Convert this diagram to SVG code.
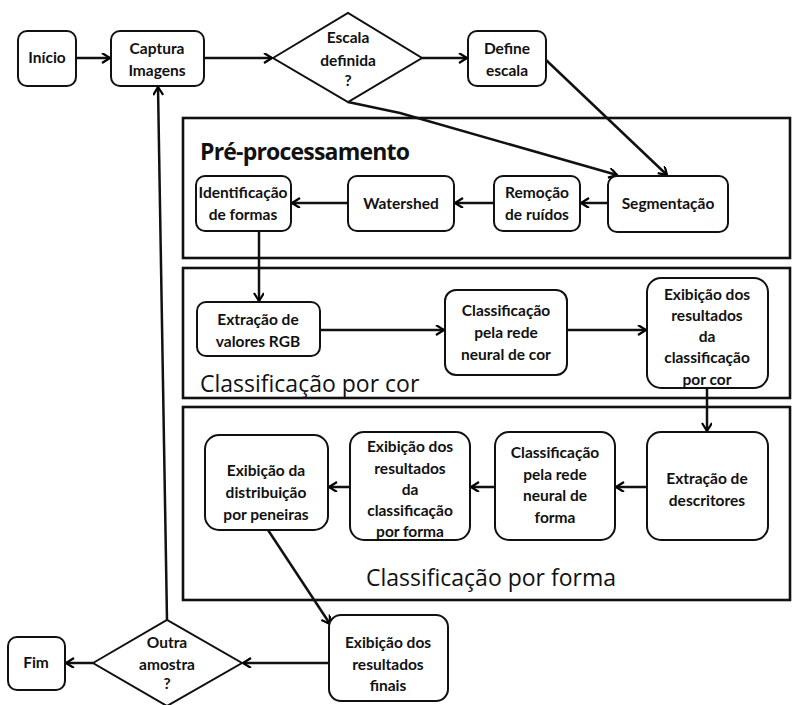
<svg xmlns="http://www.w3.org/2000/svg" width="794" height="705" viewBox="0 0 794 705">
<defs>
<marker id="arr" markerWidth="12" markerHeight="12" refX="9" refY="5" orient="auto" markerUnits="userSpaceOnUse">
<path d="M1,0 L9,5 L1,10" fill="none" stroke="#000" stroke-width="2.2"/>
</marker>
</defs>
<style>
.n{fill:#fff;stroke:#111;stroke-width:2}
.c{fill:none;stroke:#111;stroke-width:2.6}
.t{font-family:Lato,"Open Sans",sans-serif;font-weight:bold;font-size:15.5px;fill:#111;text-anchor:middle}
.h{font-family:"Open Sans","Noto Sans",sans-serif;font-size:23px;fill:#111}
.e{fill:none;stroke:#111;stroke-width:2.5;marker-end:url(#arr)}
</style>
<rect width="794" height="705" fill="#fff"/>
<g id="containers">
<rect class="c" x="183" y="118" width="607" height="140"/>
<text class="h" x="200" y="160" font-weight="bold" textLength="210">Pré-processamento</text>
<rect class="c" x="183" y="268" width="607" height="130"/>
<text class="h" x="200" y="392" font-weight="500">Classificação por cor</text>
<rect class="c" x="183" y="407" width="607" height="193"/>
<text class="h" x="491" y="586" text-anchor="middle" font-weight="500" font-size="24">Classificação por forma</text>
</g>
<g id="connectors">
<line class="e" x1="76" y1="58" x2="110" y2="58"/>
<line class="e" x1="204" y1="58" x2="272" y2="58"/>
<line class="e" x1="422" y1="58" x2="467" y2="58"/>
<line class="e" x1="546" y1="60" x2="667" y2="175"/>
<polyline class="e" points="348,102 400,113 617,175"/>
<line class="e" x1="608" y1="203" x2="581" y2="203"/>
<line class="e" x1="494" y1="203" x2="455" y2="203"/>
<line class="e" x1="348" y1="203" x2="292" y2="203"/>
<line class="e" x1="259" y1="231" x2="259" y2="301"/>
<line class="e" x1="320" y1="330" x2="444" y2="330"/>
<line class="e" x1="567" y1="330" x2="646" y2="330"/>
<line class="e" x1="707" y1="388" x2="707" y2="431"/>
<line class="e" x1="647" y1="487" x2="616" y2="487"/>
<line class="e" x1="495" y1="487" x2="471" y2="487"/>
<line class="e" x1="350" y1="487" x2="329" y2="487"/>
<line class="e" x1="268" y1="530" x2="330" y2="624"/>
<line class="e" x1="330" y1="663" x2="243" y2="663"/>
<line class="e" x1="93" y1="663" x2="66" y2="663"/>
<line class="e" x1="167" y1="620" x2="158" y2="87"/>
</g>
<g id="inicio"><rect class="n" x="18" y="31" width="58" height="55" rx="9"/><text class="t" x="47" y="63">Início</text></g>
<g id="captura"><rect class="n" x="111" y="31" width="93" height="55" rx="9"/><text class="t" x="157" y="54">Captura</text><text class="t" x="157" y="76">Imagens</text></g>
<g id="escala"><polygon class="n" points="273,58 348,13 422,58 348,102"/><text class="t" x="348" y="43">Escala</text><text class="t" x="348" y="66">definida</text><text class="t" x="348" y="86">?</text></g>
<g id="define"><rect class="n" x="468" y="31" width="78" height="55" rx="9"/><text class="t" x="507" y="54">Define</text><text class="t" x="507" y="76">escala</text></g>
<g id="identificacao"><rect class="n" x="196" y="176" width="95" height="55" rx="9"/><text class="t" x="243" y="198">Identificação</text><text class="t" x="243" y="220">de formas</text></g>
<g id="watershed"><rect class="n" x="348" y="176" width="106" height="55" rx="9"/><text class="t" x="401" y="209">Watershed</text></g>
<g id="remocao"><rect class="n" x="494" y="176" width="86" height="55" rx="9"/><text class="t" x="537" y="198">Remoção</text><text class="t" x="537" y="220">de ruídos</text></g>
<g id="segmentacao"><rect class="n" x="608" y="176" width="120" height="56" rx="9"/><text class="t" x="668" y="209">Segmentação</text></g>
<g id="rgb"><rect class="n" x="197" y="302" width="123" height="54" rx="9"/><text class="t" x="258" y="325">Extração de</text><text class="t" x="258" y="347">valores RGB</text></g>
<g id="redecor"><rect class="n" x="445" y="290" width="122" height="85" rx="11"/><text class="t" x="506" y="316">Classificação</text><text class="t" x="506" y="338">pela rede</text><text class="t" x="506" y="360">neural de cor</text></g>
<g id="exibcor"><rect class="n" x="647" y="278" width="121" height="110" rx="14"/><text class="t" x="707" y="300">Exibição dos</text><text class="t" x="707" y="321">resultados</text><text class="t" x="707" y="342">da</text><text class="t" x="707" y="363">classificação</text><text class="t" x="707" y="385">por cor</text></g>
<g id="descritores"><rect class="n" x="647" y="432" width="121" height="108" rx="14"/><text class="t" x="707" y="484">Extração de</text><text class="t" x="707" y="506">descritores</text></g>
<g id="redeforma"><rect class="n" x="495" y="432" width="120" height="108" rx="14"/><text class="t" x="555" y="458">Classificação</text><text class="t" x="555" y="480">pela rede</text><text class="t" x="555" y="501">neural de</text><text class="t" x="555" y="523">forma</text></g>
<g id="exibforma"><rect class="n" x="350" y="432" width="120" height="108" rx="14"/><text class="t" x="410" y="452">Exibição dos</text><text class="t" x="410" y="474">resultados</text><text class="t" x="410" y="495">da</text><text class="t" x="410" y="516">classificação</text><text class="t" x="410" y="537">por forma</text></g>
<g id="peneiras"><rect class="n" x="205" y="435" width="123" height="95" rx="14"/><text class="t" x="266" y="476">Exibição da</text><text class="t" x="266" y="498">distribuição</text><text class="t" x="266" y="520">por peneiras</text></g>
<g id="finais"><rect class="n" x="329" y="615" width="119" height="86" rx="12"/><text class="t" x="388" y="648">Exibição dos</text><text class="t" x="388" y="670">resultados</text><text class="t" x="388" y="691">finais</text></g>
<g id="outra"><polygon class="n" points="93,663 167,620 242,663 167,706"/><text class="t" x="167" y="648">Outra</text><text class="t" x="167" y="670">amostra</text><text class="t" x="167" y="689">?</text></g>
<g id="fim"><rect class="n" x="8" y="637" width="57" height="53" rx="9"/><text class="t" x="36" y="668">Fim</text></g>
</svg>
